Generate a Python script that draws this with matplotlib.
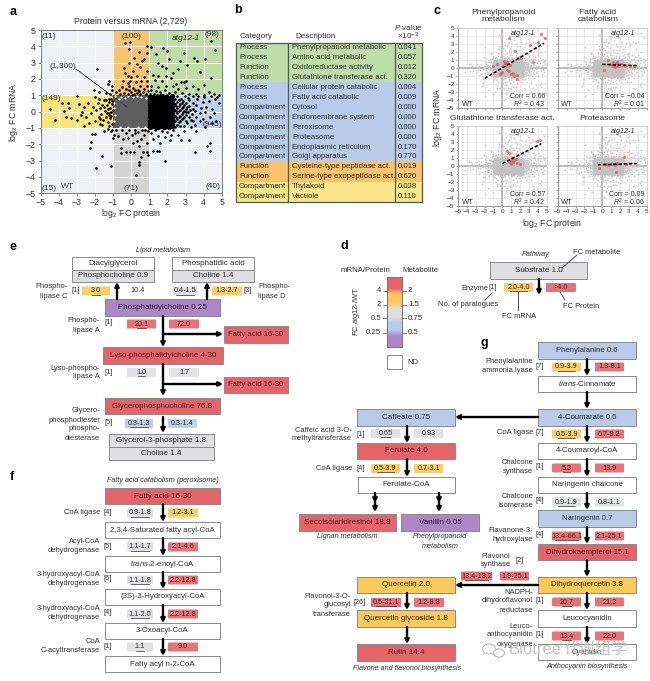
import matplotlib
matplotlib.use('Agg')
import matplotlib.pyplot as plt
from matplotlib.patches import Rectangle, FancyBboxPatch, Ellipse
from matplotlib.colors import LinearSegmentedColormap
import numpy as np

plt.rcParams['font.family'] = ['Liberation Sans', 'DejaVu Sans']
plt.rcParams['mathtext.fontset'] = 'custom'
plt.rcParams['mathtext.rm'] = 'Liberation Sans'
plt.rcParams['mathtext.it'] = 'Liberation Sans:italic'
plt.rcParams['mathtext.default'] = 'regular'

W, H = 650, 681
TXT = '#2e2e2e'
RED, YEL, GRY, BLU, PUR = '#E4646A', '#FBC95C', '#DFDFE1', '#B8CBE8', '#AE86C6'
LINE = '#8a8a8a'

# ---------- data: panel a ----------
a_orange = [(-0.36,4.18),(-0.08,4.25),(-0.12,3.82),(0.43,3.67),(0.72,3.2),(0.85,3.6),(0.9,4.0),(0.15,3.3),(0.6,3.1),(0.3,2.9),
 (-0.4,2.7),(-0.1,2.95),(0.5,2.75),(0.9,2.5),(0.1,2.5),(-0.35,2.35),(-0.2,2.2),(0.0,2.1),(0.3,2.2),(0.7,2.1),(-0.45,1.9),
 (-0.2,1.75),(-0.05,1.9),(0.25,1.8),(0.55,1.85),(0.85,1.9),(-0.5,1.5),(-0.3,1.4),(-0.1,1.55),(0.1,1.45),(0.35,1.3),(0.5,1.55),
 (0.7,1.4),(0.9,1.6),(-0.85,1.2),(-0.6,1.1),(-0.4,1.15),(-0.2,1.1),(0.0,1.2),(0.15,1.1),(0.3,1.15),(0.5,1.1),(0.65,1.2),
 (0.8,1.1),(0.95,1.25),(-0.7,1.35),(0.05,1.05),(0.45,1.25),(-0.1,1.3),(0.2,1.3)]
a_green = [(1.1,3.95),(1.35,3.55),(1.75,3.9),(2.0,3.7),(2.1,3.2),(2.9,3.6),(2.7,3.1),(3.1,2.85),(3.45,3.3),(3.65,3.1),(4.05,3.2),
 (4.4,4.35),(4.65,3.75),(1.5,3.0),(1.7,2.8),(1.95,2.7),(2.3,2.35),(2.6,2.6),(3.8,2.4),(1.2,2.25),(1.5,2.2),(1.9,2.2),(2.2,2.05),
 (2.75,1.8),(2.9,1.8),(3.05,1.85),(4.4,2.05),(4.0,1.65),(1.3,1.95),(1.7,1.9),(2.5,1.7),(3.4,1.6),(1.1,1.6),(1.5,1.5),(1.9,1.55),
 (2.3,1.55),(2.6,1.4),(3.0,1.45),(3.7,1.4),(4.3,1.2),(4.6,1.1),(1.1,1.3),(1.35,1.25),(1.6,1.2),(1.85,1.3),(2.1,1.15),(2.4,1.2),
 (2.8,1.15),(3.2,1.1),(3.6,1.1),(4.0,1.05),(4.85,1.05),(1.05,1.1),(1.25,1.1),(1.45,1.05),(1.75,1.05),(2.0,1.05),(2.25,1.05)]
a_left = [(-1.9,2.6),(-1.25,1.85),(-1.3,1.7),(-1.05,1.55),(-2.05,1.35),(-1.8,1.2),(-1.4,1.15),(-1.15,1.1),(-1.05,1.3),(-3.0,0.95),
 (-4.5,0.15),(-4.2,-0.5),(-3.8,0.5),(-3.5,0.5),(-3.7,0.05),(-3.6,-0.35),(-3.35,-0.4),(-3.45,0.2),(-2.9,0.45),(-2.8,-0.2),(-2.7,0.0),
 (-2.6,0.3),(-2.5,-0.3),(-2.4,0.5),(-2.35,-0.7),(-2.2,-0.1),(-2.1,0.3),(-2.0,-0.6),(-1.95,0.1),(-1.85,0.55),(-1.8,-0.3),(-1.75,-0.75),
 (-1.7,0.2),(-1.65,-0.15),(-1.6,0.4),(-1.55,-0.5),(-1.5,0.7),(-1.45,0.05),(-1.4,-0.3),(-1.35,0.4),(-1.3,-0.65),(-1.3,0.15),(-1.25,-0.1),
 (-1.2,0.6),(-1.15,-0.4),(-1.15,0.25),(-1.1,0.8),(-1.1,-0.05),(-1.05,-0.75),(-1.05,0.45),(-1.25,0.8),(-1.4,0.7),(-1.6,-0.8),(-2.6,-0.85),
 (-3.0,-0.5),(-2.0,0.9),(-1.8,0.8),(-1.25,-0.9),(-1.1,-0.25),(-1.02,0.1),(-1.08,0.65),(-1.2,-0.2),(-1.35,-0.1),(-1.5,0.3),(-1.7,-0.45)]
a_lower = [(-2.3,-2.2),(-2.2,-1.85),(-2.15,-1.35),(-2.0,-1.35),(-1.95,-3.45),(-1.6,-2.7),(-1.1,-3.3),(-1.5,-1.2),(-1.1,-1.2),(-1.0,-1.6),
 (-1.05,-1.1),(-1.3,-1.05),(-0.95,-1.4),(-0.85,-1.1),(-0.75,-1.5),(-0.3,-1.3),(-0.55,-2.2),(-0.3,-2.5),(-0.55,-2.55),(-0.05,-2.5),
 (0.15,-2.5),(0.45,-2.1),(0.65,-2.45),(0.85,-2.5),(0.95,-2.65),(0.55,-2.8),(0.45,-3.1),(0.45,-3.25),(0.25,-3.85),(-0.45,-1.7),
 (0.05,-1.4),(0.2,-1.1),(0.35,-1.25),(0.55,-1.7),(0.7,-1.45),(0.85,-1.9),(0.95,-1.2),(-0.15,-1.6),(0.3,-1.8),(0.75,-1.1),(-0.5,-1.15),
 (0.1,-1.9),(0.6,-1.15),(0.2,-1.3),(-0.1,-1.15),(1.2,-2.4),(1.4,-2.4),(1.55,-2.4),(1.85,-3.0),(3.5,-2.45),(4.35,-1.9),(4.2,-2.1),
 (4.35,-2.4),(1.1,-1.3),(1.3,-1.15),(1.5,-1.5),(1.7,-1.2),(1.85,-1.55),(2.0,-1.25),(2.15,-1.75),(2.3,-1.15),(2.6,-1.4),(2.9,-1.2),
 (3.2,-1.75),(3.6,-1.2),(1.2,-1.7),(1.6,-1.9),(2.2,-1.4),(2.75,-1.75)]
a_core = [(1.05,-0.95),(1.2,-0.9),(1.35,-0.97),(1.5,-0.92),(1.65,-0.88),(1.8,-0.96),(1.95,-0.9),(2.1,-0.94),(2.25,-0.87),
 (1.03,-0.75),(1.18,-0.7),(1.33,-0.76),(1.48,-0.72),(1.63,-0.68),(1.78,-0.74),(1.93,-0.7),(2.08,-0.76),(2.23,-0.69),
 (1.06,-0.55),(1.21,-0.5),(1.36,-0.56),(1.51,-0.52),(1.66,-0.48),(1.81,-0.55),(1.96,-0.5),(2.11,-0.54),(2.26,-0.47),
 (1.04,-0.34),(1.19,-0.3),(1.34,-0.36),(1.49,-0.31),(1.64,-0.28),(1.79,-0.33),(1.94,-0.29),(2.09,-0.35),(2.24,-0.27),
 (1.06,-0.13),(1.21,-0.1),(1.36,-0.15),(1.51,-0.11),(1.66,-0.07),(1.81,-0.13),(1.96,-0.09),(2.11,-0.14),(2.26,-0.06),
 (1.03,0.07),(1.18,0.1),(1.33,0.05),(1.48,0.09),(1.63,0.13),(1.78,0.06),(1.93,0.11),(2.08,0.05),(2.23,0.13),
 (1.05,0.27),(1.2,0.3),(1.35,0.25),(1.5,0.29),(1.65,0.33),(1.8,0.26),(1.95,0.31),(2.1,0.26),(2.25,0.33),
 (1.04,0.47),(1.19,0.5),(1.34,0.45),(1.49,0.49),(1.64,0.53),(1.79,0.46),(1.94,0.51),(2.09,0.46),(2.24,0.53),
 (1.06,0.67),(1.21,0.7),(1.36,0.65),(1.51,0.69),(1.66,0.73),(1.81,0.66),(1.96,0.71),(2.11,0.66),(2.26,0.73),
 (1.04,0.87),(1.19,0.9),(1.34,0.85),(1.49,0.89),(1.64,0.93),(1.79,0.86),(1.94,0.91),(2.09,0.86),(2.24,0.93)]
a_right = [(2.4,-0.95),(2.55,-0.8),(2.7,-0.9),(2.9,-0.85),(3.1,-0.7),(3.3,-0.95),(3.55,-0.8),(3.8,-0.55),(4.05,-0.95),(4.45,-0.7),
 (2.4,-0.6),(2.55,-0.45),(2.7,-0.6),(2.85,-0.4),(3.0,-0.55),(3.2,-0.35),(3.4,-0.6),(3.6,-0.3),(3.95,-0.45),(4.35,-0.35),(4.7,-0.55),
 (2.4,-0.25),(2.55,-0.1),(2.7,-0.25),(2.85,-0.05),(3.0,-0.2),(3.15,0.0),(3.35,-0.15),(3.55,0.05),(3.8,-0.1),(4.1,-0.05),(4.6,-0.1),
 (2.4,0.1),(2.55,0.25),(2.7,0.1),(2.85,0.3),(3.0,0.15),(3.2,0.35),(3.4,0.15),(3.6,0.4),(3.85,0.2),(4.15,0.3),(4.45,0.15),(4.85,0.5),
 (2.4,0.45),(2.55,0.6),(2.7,0.45),(2.85,0.65),(3.0,0.5),(3.2,0.7),(3.4,0.55),(3.65,0.75),(3.95,0.6),(4.3,0.65),(4.65,0.75),
 (2.4,0.8),(2.55,0.95),(2.75,0.8),(2.95,0.95),(3.15,0.85),(3.4,0.95),(3.7,0.95),(4.0,0.9),(4.4,0.95),(4.75,0.9),
 (2.33,-0.72),(2.47,-0.35),(2.33,-0.15),(2.47,0.02),(2.33,0.22),(2.47,0.36),(2.33,0.62),(2.62,-0.66),(2.63,-0.3),(2.62,0.02),(2.63,0.37),
 (2.64,0.72),(2.78,-0.45),(2.8,-0.12),(2.78,0.2),(2.79,0.55),(2.92,-0.3),(2.93,0.05),(2.92,0.42),(3.05,-0.05),(3.08,0.3),(3.28,-0.5),(3.26,0.1)]
a_center = [(x, y) for y, xs in [
 (-0.9,[-0.88,-0.6,-0.3,0.02,0.3,0.62,0.9]),(-0.6,[-0.92,-0.58,-0.28,-0.02,0.33,0.58,0.88]),(-0.3,[-0.87,-0.62,-0.33,0.03,0.28,0.63,0.92]),
 (0.0,[-0.9,-0.6,-0.3,0.0,0.3,0.6,0.9]),(0.3,[-0.88,-0.63,-0.27,0.02,0.32,0.58,0.91]),(0.6,[-0.93,-0.57,-0.32,-0.03,0.27,0.62,0.87]),
 (0.9,[-0.86,-0.61,-0.29,0.04,0.31,0.59,0.93])] for x in xs]
a_specks = [(-0.9,0.95),(-0.7,0.8),(-0.55,0.92),(-0.35,0.85),(-0.15,0.95),(0.1,0.88),(0.3,0.97),(0.55,0.9),(0.8,0.85),(-0.93,0.55),
 (-0.95,0.2),(-0.92,-0.2),(-0.95,-0.55),(-0.6,-0.92),(-0.2,-0.95),(0.4,-0.93),(0.75,-0.95)]
a_counts = ['(11)', '(100)', '(98)', '(149)', '(1,300)', '(945)', '(15)', '(71)', '(40)']

# ---------- data: panel b ----------
b_category = ['Process','Process','Function','Function','Process','Process','Compartment','Compartment','Compartment','Compartment',
 'Compartment','Compartment','Function','Function','Compartment','Compartment']
b_description = ['Phenylpropanoid metabolic','Amino acid metabolic','Oxidoreductase activity','Glutathione transferase act.',
 'Cellular protein catabolic','Fatty acid catabolic','Cytosol','Endomembrane system','Peroxisome','Proteasome','Endoplasmic reticulum',
 'Golgi apparatus','Cysteine-type peptidase act.','Serine-type exopeptidase act.','Thylakoid','Vacuole']
b_pvalue = ['0.041','0.057','0.012','0.320','0.004','0.009','0.000','0.000','0.000','0.000','0.170','0.770','0.019','0.620','0.038','0.110']
b_colors = ['#BFDDA8']*4 + ['#B9CBE8']*8 + ['#F8C36C']*2 + ['#FBE68A']*2

# ---------- data: panel c ----------
c_titles = ['Phenylpropanoid\nmetabolism', 'Fatty acid\ncatabolism', 'Glutathione transferase act.', 'Proteasome']
c_corr = ['Corr = 0.66', 'Corr = \u22120.04', 'Corr = 0.57', 'Corr = 0.09']
c_r2 = ['0.43', '0.01', '0.42', '0.06']
c_fit_x = [[-2.0, 4.7], [0.0, 3.9], [0.0, 4.4], [-0.5, 3.9]]
c_fit_y = [[-1.3, 3.1], [0.45, 0.3], [0.3, 2.8], [0.15, 0.3]]
c_red = [
 [(0.2,0.9),(0.3,0.6),(0.5,0.8),(0.1,0.3),(0.4,0.2),(0.0,-0.5),(-0.3,-0.7),(0.5,-0.3),(0.7,-0.4),(1.0,-0.8),(1.3,-1.0),(1.6,-0.9),(1.2,-0.6),
  (1.8,1.2),(2.1,1.3),(1.4,2.1),(3.1,2.9),(3.4,0.7),(4.0,3.2),(4.4,4.3),(4.8,3.7),(-1.0,0.2),(-0.6,0.5),(0.8,3.8),(1.7,-1.4),(0.9,0.4),(0.6,0.5),(-0.1,-0.6)],
 [(0.9,0.5),(1.1,0.3),(1.2,0.7),(1.3,0.4),(1.4,0.15),(1.5,0.6),(1.6,0.3),(1.7,0.8),(1.8,0.45),(1.9,0.2),(2.1,0.5),(2.3,0.35),(2.6,0.3),(3.1,0.3),(3.6,0.2),(0.7,1.0),(0.2,-0.3)],
 [(0.5,1.9),(0.8,1.6),(3.9,3.1),(4.3,3.3),(2.0,0.2),(0.8,0.8),(1.0,0.6),(1.1,1.0),(1.2,0.5),(1.3,0.8),(1.5,0.9),(1.6,0.4),(1.0,0.3),(0.7,0.5)],
 [(-0.4,-0.3),(0.2,0.2),(0.4,0.25),(0.7,0.15),(0.9,0.25),(1.1,0.2),(1.3,0.3),(1.4,0.1),(1.5,0.35),(1.7,0.2),(2.0,0.2),(2.4,1.1),(1.6,-0.7),(2.7,0.3)]]

# ---------- data: colour key ----------
d_left_ticks = ['4', '2', '0.5', '0.25']
d_right_ticks = ['2', '1.5', '0.75', '0.5']

# ---------- data: pathway rows (label, [paralogues], mRNA value, colour, protein value, colour) ----------
f_rows = [(['CoA ligase'],'[4]','0.9-1.8',GRY,'1.2-3.1',YEL),
 (['Acyl-CoA','dehydrogenase'],'[5]','1.1-1.7',GRY,'2.1-4.6',RED),
 (['3-hydroxyacyl-CoA','dehydrogenase'],'[6]','1.1-1.8',GRY,'2.2-12.8',RED),
 (['3-hydroxyacyl-CoA','dehydrogenase'],'[4]','1.1-2.0',GRY,'2.2-12.8',RED),
 (['CoA','C-acyltransferase'],'[1]','1.1',GRY,'9.0',RED)]
f_boxes = ['2,3,4-Saturated fatty acyl-CoA','$\\it{trans}$-2-enoyl-CoA','(3S)-3-Hydroxyacyl-CoA','3-Oxoacyl-CoA','Fatty acyl n-2-CoA']
g_rows = [(['Phenylalanine','ammonia lyase'],'[7]','0.9-3.9',YEL,'1.3-8.1',RED),
 (['CoA ligase'],'[7]','0.5-3.9',YEL,'0.7-8.2',RED),
 (['Chalcone','synthase'],'[1]','5.3',RED,'13.9',RED),
 (['Chalcone','isomerase'],'[4]','0.9-1.9',GRY,'0.8-1.1',GRY),
 (['Flavanone-3-','hydroxylase'],'[4]','13.4-66.1',RED,'2.1-25.1',RED),
 (['NADPH-','dihydroflavonol','reductase'],'[1]','20.7',RED,'21.3',RED),
 (['Leuco-','anthocyanidin','oxygenase'],'[1]','13.4',RED,'22.0',RED)]
g_boxes = [('Phenylalanine 0.6',BLU),('$\\it{trans}$-Cinnamate','white'),('4-Coumarate 0.6',BLU),('4-Coumaroyl-CoA','white'),
 ('Naringenin chalcone','white'),('Naringenin 0.7',BLU),('Dihydrokaempferol 15.1',RED),('Dihydroquercetin 3.8',YEL),
 ('Leucocyanidin','white'),('Cyanidin','white')]

# ---------- figure ----------
fig = plt.figure(figsize=(W/100, H/100), dpi=100, facecolor='white')

def ax_px(x0, y0, x1, y1):
    return fig.add_axes([x0/W, 1-y1/H, (x1-x0)/W, (y1-y0)/H])

ov = fig.add_axes([0, 0, 1, 1], zorder=5)
ov.set_xlim(0, W); ov.set_ylim(H, 0); ov.axis('off'); ov.patch.set_alpha(0)

def T(x, y, s, fs=5.6, ha='center', va='center', color=TXT, **k):
    return ov.text(x, y, s, fontsize=fs, ha=ha, va=va, color=color, **k)

def box(x0, y0, x1, y1, fc, label=None, fs=5.8, ec=LINE, color=TXT, **k):
    ov.add_patch(Rectangle((x0, y0), x1-x0, y1-y0, fc=fc, ec=ec, lw=0.7))
    if label:
        T((x0+x1)/2, (y0+y1)/2, label, fs=fs, color=color, **k)

def chip(x0, x1, yc, fc, label, under=False, h=9):
    ov.add_patch(FancyBboxPatch((x0+1, yc-h/2+1), x1-x0-2, h-2, boxstyle='round,pad=1', fc=fc, ec='none', alpha=0.9))
    c = '#4c1f22' if fc == RED else TXT
    T((x0+x1)/2, yc, label, fs=5.2, color=c)
    if under:
        w = len(label)*2.45
        ov.plot([(x0+x1)/2-w/2, (x0+x1)/2+w/2], [yc+3.6, yc+3.6], color=c, lw=0.5)

def arrow(x0, y0, x1, y1, lw=1.7):
    ov.annotate('', xy=(x1, y1), xytext=(x0, y0),
                arrowprops=dict(arrowstyle='-|>,head_width=0.17,head_length=0.34', lw=lw, color='black',
                                mutation_scale=7, shrinkA=0, shrinkB=0))

def multiline(x, y, lines, dy, ha='right', fs=5.4):
    for i, s in enumerate(lines):
        T(x, y+i*dy, s, fs=fs, ha=ha)

for s, x, y in [('a',13,12),('b',238,10),('c',437,11),('e',13,247),('d',344,246),('f',12,477),('g',484,343)]:
    T(x, y, s, fs=9, color='black', fontweight='bold')

# ---------- panel a ----------
axa = ax_px(40.7, 30, 221.7, 193.3)
axa.set_xlim(-5, 5); axa.set_ylim(-5, 5)
axa.set_facecolor('#EEF0F5')
axa.grid(True, color='white', lw=0.7); axa.set_axisbelow(True)
axa.set_xticks(range(-5, 6)); axa.set_yticks(range(-5, 6))
axa.set_xticklabels([str(v).replace('-', '\u2212') for v in range(-5, 6)], fontsize=6.3, color=TXT)
axa.set_yticklabels([str(v).replace('-', '\u2212') for v in range(-5, 6)], fontsize=6.3, color=TXT)
axa.tick_params(length=2.2, width=0.5, pad=1.5, color='#555555')
for s in axa.spines.values():
    s.set_color('#777777'); s.set_linewidth(0.7)
thr = 1
axa.axvspan(-thr, thr, ymin=0.6, ymax=1, color='#F8C36C', lw=0, zorder=0.5)
axa.axvspan(thr, 5, ymin=0.6, ymax=1, color='#C0DDA8', lw=0, zorder=0.5)
axa.axvspan(-5, -thr, ymin=0.4, ymax=0.6, color='#FBE675', lw=0, zorder=0.5)
axa.axvspan(thr, 5, ymin=0.4, ymax=0.6, color='#BFD0EC', lw=0, zorder=0.5)
axa.axvspan(-thr, thr, ymin=0, ymax=0.4, color='#D4D4D4', lw=0, zorder=0.5)
axa.axvspan(-thr, thr, ymin=0.4, ymax=0.6, color='#5E5E5E', lw=0, zorder=0.6)
def xy(p):
    a = np.array(p); return a[:, 0], a[:, 1]
sparse = a_orange + a_green + a_left + a_lower + a_right
axa.scatter(*xy(a_specks), s=2.5, c='white', lw=0, zorder=2)
axa.scatter(*xy(sparse), s=3.6, c='black', lw=0, zorder=3)
axa.scatter(*xy(a_core), s=15, c='black', lw=0, zorder=3)
T(131, 22, 'Protein versus mRNA (2,729)', fs=6.2)
T(131, 214, 'log$_2$ FC protein', fs=6.3)
T(13, 112, 'log$_2$ FC mRNA', fs=6.3, rotation=90)
T(49, 36, a_counts[0], fs=6)
T(131, 36, a_counts[1], fs=6)
T(212, 35, a_counts[2], fs=6)
T(51, 99, a_counts[3], fs=6)
T(63, 67, a_counts[4], fs=6)
T(212, 124, a_counts[5], fs=6)
T(49, 188, a_counts[6], fs=6)
T(131, 188, a_counts[7], fs=6)
T(213, 187, a_counts[8], fs=6)
T(186, 38, 'atg12-1', fs=6, style='italic')
T(67, 186, 'WT', fs=6)
ov.plot([76, 127], [69, 107], color='#333333', lw=0.6)

# ---------- panel b ----------
rh = (201.7-42.7)/16
T(240, 36, 'Category', fs=5.9, ha='left')
T(295, 36, 'Description', fs=5.9, ha='left')
T(408, 27, '$\\it{P}$ value', fs=5.9)
T(408, 36, '\u00d710$^{-3}$', fs=5.9)
for i, (c, d, p, col) in enumerate(zip(b_category, b_description, b_pvalue, b_colors)):
    y0 = 42.7 + i*rh
    ov.add_patch(Rectangle((236, y0), 421.7-236, rh, fc=col, ec='none'))
    T(239, y0+rh/2, c, fs=5.6, ha='left')
    T(292, y0+rh/2, d, fs=5.6, ha='left')
    T(407, y0+rh/2, p, fs=5.6)
ov.add_patch(Rectangle((236, 42.7), 421.7-236, 159, fc='none', ec='#4d5d4d', lw=0.9))
for xv in (288, 395):
    ov.plot([xv, xv], [42.7, 201.7], color='#4d5d4d', lw=0.9)

# ---------- panel c ----------
c_outer = a_orange + a_green + a_left + a_lower + a_right
c_inner = a_core + a_center
c_pos = [(458, 28, 546.7, 108), (557.7, 28, 646.7, 108), (458, 126, 546.7, 206), (557.7, 126, 646.7, 206)]
ticks = list(range(-5, 6))
for i, p in enumerate(c_pos):
    ax = ax_px(*p)
    ax.set_xlim(-5, 5); ax.set_ylim(-5, 5)
    ax.grid(True, color='#E2E2E2', lw=0.5); ax.set_axisbelow(True)
    ax.set_xticks(ticks); ax.set_yticks(ticks)
    ax.set_xticklabels([str(v).replace('-', '\u2212') for v in ticks] if i >= 2 else [], fontsize=4.6, color=TXT)
    ax.set_yticklabels([str(v).replace('-', '\u2212') for v in ticks] if i % 2 == 0 else [], fontsize=4.6, color=TXT)
    ax.tick_params(length=1.5, width=0.4, pad=1, color='#666666')
    for k, s in ax.spines.items():
        s.set_color('#888888' if k in ('left', 'bottom') else '#CCCCCC'); s.set_linewidth(0.6)
    ax.axhline(0, color='#A8A8A8', lw=1.1, zorder=1)
    ax.axvline(0, color='#A8A8A8', lw=1.1, zorder=1)
    ax.scatter(*xy(c_outer), s=1.8, c='#CCCCCC', lw=0, zorder=2)
    ax.scatter(*xy(c_inner), s=7, c='#C2C2C2', lw=0, zorder=2)
    ax.scatter(*xy(c_red[i]), s=5, c='#E0555F', alpha=0.75, lw=0, zorder=3)
    ax.plot(c_fit_x[i], c_fit_y[i], color='black', lw=1.1, ls=(0, (2.2, 1.2)), zorder=4)
    ax.text(0.87, 0.93, 'atg12-1', transform=ax.transAxes, fontsize=5.2, style='italic', ha='right', va='center', color=TXT)
    ax.text(0.04, 0.05, 'WT', transform=ax.transAxes, fontsize=5.4, ha='left', va='center', color=TXT)
    ax.text(0.98, 0.15, c_corr[i], transform=ax.transAxes, fontsize=5, ha='right', va='center', color=TXT)
    ax.text(0.98, 0.05, '$\\it{R}^2$ = ' + c_r2[i], transform=ax.transAxes, fontsize=5, ha='right', va='center', color=TXT)
for s, x, y in [(c_titles[0], 503, 16), (c_titles[1], 598, 16), (c_titles[2], 502, 119), (c_titles[3], 602, 119)]:
    T(x, y, s, fs=6.1, linespacing=1.15)
T(552, 223, 'log$_2$ FC protein', fs=6.3)
T(438, 117, 'log$_2$ FC mRNA', fs=6.3, rotation=90)

# ---------- panel d: key ----------
T(365, 271, 'mRNA/Protein', fs=5.6)
T(420, 271, 'Metabolite', fs=5.6)
cmap = LinearSegmentedColormap.from_list('key', [(0, RED), (0.16, RED), (0.24, YEL), (0.36, YEL), (0.46, GRY), (0.56, GRY),
                                                 (0.66, BLU), (0.76, BLU), (0.84, PUR), (1, PUR)])
ov.imshow(np.linspace(0, 1, 140)[:, None], extent=(387, 402, 347, 277), cmap=cmap, aspect='auto', zorder=1)
ov.set_xlim(0, W); ov.set_ylim(H, 0)
ov.add_patch(Rectangle((387, 277), 15, 70, fc='none', ec='#777777', lw=0.7))
for yv, l, r in zip((291, 305, 318, 333), d_left_ticks, d_right_ticks):
    ov.plot([383, 387], [yv, yv], color='#555555', lw=0.5)
    ov.plot([402, 406], [yv, yv], color='#555555', lw=0.5)
    T(381, yv, l, fs=5.6, ha='right')
    T(408, yv, r, fs=5.6, ha='left')
T(356, 312, 'FC $\\it{atg12}$-/WT', fs=5.4, rotation=90)
ov.add_patch(Rectangle((387, 355), 15, 14, fc='white', ec='#888888', lw=0.7))
T(407, 362, 'ND', fs=5.4, ha='left')

T(536, 255, 'Pathway', fs=5.2, style='italic')
T(573, 252, 'FC metabolite', fs=5.4, ha='left')
ov.plot([577, 562], [255, 268], color='#333333', lw=0.6, zorder=6)
box(490, 262, 587, 279, GRY, 'Substrate 1.0', fs=5.8)
T(488, 288, 'Enzyme', fs=5.4, ha='right')
T(493, 287.5, '[1]', fs=5.4)
chip(504, 533, 287.5, YEL, '2.0-4.0', under=True)
arrow(539, 279, 539, 295)
chip(546, 576, 287.5, RED, '>4.0')
T(468, 305, 'No. of paralogues', fs=5.4)
ov.plot([492, 485], [293, 300], color='#333333', lw=0.6)
T(519, 316, 'FC mRNA', fs=5.4)
ov.plot([518, 518], [292, 310], color='#333333', lw=0.6)
T(581, 306, 'FC Protein', fs=5.4)
ov.plot([560, 565], [292, 300], color='#333333', lw=0.6)

# ---------- panel e ----------
T(163, 250, 'Lipid metabolism', fs=5.2, style='italic')
for x0, x1, top, bot in [(72, 154, 'Diacylglycerol', 'Phosphocholine 0.9'), (172, 254, 'Phosphatidic acid', 'Choline 1.4')]:
    box(x0, 257, x1, 269.5, 'white', top)
    box(x0, 269.5, x1, 282, GRY, bot)
box(105, 299, 220, 316, PUR, 'Phosphatidylcholine 0.25', color='#2d1a3d')
multiline(68, 287, ['Phospho-', 'lipase C'], 9)
T(76, 291, '[1]', fs=5.4)
chip(82, 110, 291, YEL, '3.0', under=True)
T(138, 291, '10.4', fs=5.3)
arrow(117, 299, 117, 282)
chip(173, 197, 291, GRY, '0.4-1.5', under=True)
arrow(207, 299, 207, 282)
chip(212, 242, 291, YEL, '1.3-2.7')
T(248, 291, '[3]', fs=5.4)
multiline(258, 287, ['Phospho-', 'lipase D'], 9, ha='left')
multiline(100, 321, ['Phospho-', 'lipase A'], 9)
T(109, 323, '[1]', fs=5.4)
chip(127, 156, 324, RED, '20.1', under=True)
chip(169, 199, 324, RED, '72.0')
arrow(163, 316, 163, 347)
arrow(163, 334, 223, 334)
box(224, 326, 288, 343, RED, 'Fatty acid 16-30', fs=5.5, color='#4c1f22')
box(103, 347, 223, 364, RED, 'Lyso-phosphatidylcholine 4-30', fs=5.7, color='#4c1f22')
multiline(100, 368, ['Lyso-phospho-', 'lipase A'], 9)
T(109, 372, '[1]', fs=5.4)
chip(127, 156, 372.5, GRY, '1.0', under=True)
chip(169, 199, 372.5, GRY, '1.7')
arrow(163, 364, 163, 396)
arrow(163, 384, 223, 384)
box(224, 377, 288, 393, RED, 'Fatty acid 16-30', fs=5.5, color='#4c1f22')
box(105, 398, 220, 414, RED, 'Glycerophosphocholine 76.8', fs=5.7, color='#4c1f22')
multiline(100, 411, ['Glycero-', 'phosphodiester', 'phospho-', 'diesterase'], 9)
T(109, 423, '[5]', fs=5.4)
chip(125, 153, 423.5, BLU, '0.3-1.3', under=True)
chip(168, 197, 423.5, BLU, '0.3-1.4')
arrow(163, 417, 163, 433)
box(109, 434, 214, 447, GRY, 'Glycerol-3-phosphate 1.8')
box(109, 447, 214, 460, GRY, 'Choline 1.4')

# ---------- panel f ----------
T(163, 480, 'Fatty acid catabolism (peroxisome)', fs=5.2, style='italic')
box(105, 488, 220, 504, RED, 'Fatty acid 16-30', color='#4c1f22')
f_box_y = [(522, 538), (556, 572), (589, 605), (623, 639), (656, 672)]
f_row_y = [513, 547, 580, 614, 647]
prev = 504
for (lab, n, l, lc, r, rc), (y0, y1), yc, name in zip(f_rows, f_box_y, f_row_y, f_boxes):
    box(105, y0, 220, y1, 'white', name, fs=5.6)
    multiline(100, yc-(len(lab)-1)*4.5-1, lab, 9)
    T(108, yc-1, n, fs=5.4)
    chip(127, 153, yc, lc, l, under=True)
    chip(168, 198, yc, rc, r)
    arrow(163, prev, 163, y0)
    prev = y1

# ---------- middle pathway ----------
XA, XB = 357, 455
box(XA, 409, XB, 426, BLU, 'Caffeate 0.75')
arrow(538, 417, XB, 417)
multiline(352, 430, ['Caffeic acid 3-O-', 'methyltransferase'], 9)
T(361, 434, '[1]', fs=5.4)
chip(371, 400, 433.5, GRY, '0.65', under=True)
chip(414, 443, 433.5, GRY, '0.93')
arrow(407, 426, 407, 443)
box(XA, 443, XB, 459, RED, 'Ferulate 4.0', color='#4c1f22')
T(352, 468, 'CoA ligase', fs=5.4, ha='right')
T(361, 468, '[4]', fs=5.4)
chip(371, 400, 468.5, YEL, '0.5-3.9', under=True)
chip(414, 443, 468.5, YEL, '0.7-3.1')
arrow(407, 459, 407, 477)
box(358, 477, 455, 493, 'white', 'Ferulate-CoA')
for xv in (375, 439):
    arrow(xv, 493, xv, 503)
    arrow(xv, 501, xv, 512)
box(299, 514, 396, 531, RED, 'Secoisolariciresinol 18.8', color='#4c1f22')
box(401, 514, 479, 531, PUR, 'Vanillin 0.05', color='#2d1a3d')
T(347, 537, 'Lignan metabolism', fs=5.2, style='italic')
multiline(440, 537, ['Phenylpropanoid', 'metabolism'], 9.3, ha='center', fs=5.2)
for t in ov.texts[-2:]:
    t.set_style('italic')
box(XA, 577, XB, 593, YEL, 'Quercetin 2.0')
arrow(538, 585, XB, 585)
multiline(351, 596, ['Flavonol-3-O-', 'glucosyl', 'transferase'], 9)
T(360, 602, '[26]', fs=5.2)
chip(371, 401, 602.5, RED, '0.5-31.1', under=True)
chip(414, 444, 602.5, RED, '1.2-8.8')
arrow(407, 593, 407, 610)
box(XA, 610, XB, 627, YEL, 'Quercetin glycoside 1.8')
arrow(407, 627, 407, 644)
box(XA, 644, XB, 661, RED, 'Rutin 14.4', color='#4c1f22')
T(407, 668, 'Flavone and flavonol biosynthesis', fs=5.2, style='italic')

# ---------- panel g ----------
g_box_y = [(342, 359), (376, 392), (409, 426), (443, 459), (477, 493), (510, 527), (544, 560), (577, 593), (610, 627), (644, 660)]
for (name, col), (y0, y1) in zip(g_boxes, g_box_y):
    box(538, y0, 636, y1, col, name, fs=5.6, color='#4c1f22' if col == RED else TXT)
for (a, b) in zip(g_box_y[:-1], g_box_y[1:]):
    arrow(587, a[1], 587, b[0])
g_row_y = [367, 434, 468, 502, 536, 602, 636]
for (lab, n, l, lc, r, rc), yc in zip(g_rows, g_row_y):
    multiline(533, yc-(len(lab)-1)*4.5-1, lab, 9)
    T(540, yc-1, n, fs=5.4)
    chip(552, 581, yc, lc, l, under=True)
    chip(595, 624, yc, rc, r)
T(587, 667, 'Anthocyanin biosynthesis', fs=5.2, style='italic')
multiline(496, 556, ['Flavonol', 'synthase'], 9, ha='center')
T(520, 561, '[2]', fs=5.4)
chip(461, 492, 576, RED, '13.4-13.2', under=True)
chip(500, 529, 576, RED, '1.9-25.1')

# ---------- watermark ----------
WM = '#BDBDBD'
ov.add_patch(Ellipse((489, 649), 13, 10, fc='none', ec=WM, lw=0.8))
ov.add_patch(Ellipse((499, 653), 11, 8, fc='white', ec=WM, lw=0.8))
ov.text(509, 649, 'Biotree', fontsize=12, color=WM, ha='left', va='center', alpha=0.9)
ov.text(564, 649, '\u4ee3\u8c22\u7ec4\u5b66', fontsize=11.5, color=WM, ha='left', va='center', alpha=0.9,
        family=['Noto Sans CJK SC', 'DejaVu Sans'])

fig.savefig('out.png', dpi=100, facecolor='white')
